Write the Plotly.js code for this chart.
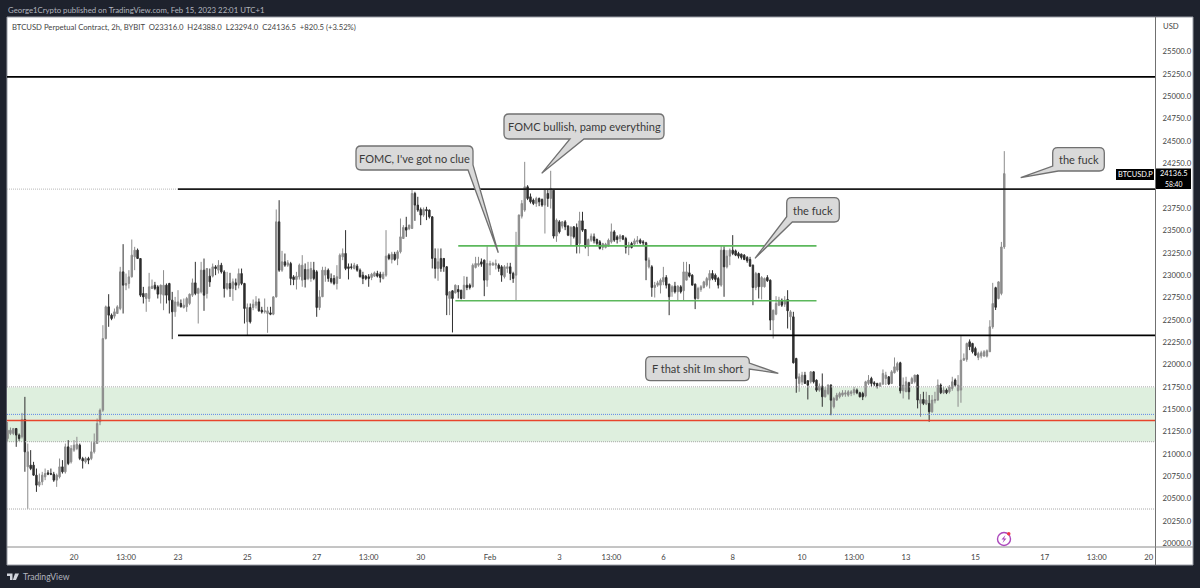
<!DOCTYPE html>
<html>
<head>
<meta charset="utf-8">
<script src="https://cdn.plot.ly/plotly-3.0.1.min.js"></script>
<style>
  html, body { margin: 0; padding: 0; background: #1e222d; }
  #chart { width: 1200px; height: 588px; }
</style>
</head>
<body>
<div id="chart"></div>
<script>
// 2h candles, last one opened Feb 15 21:00
var lastCandle = Date.UTC(2023, 1, 15, 21, 0);

var opens = [
  21172,21228,21228,21284,21210,21191,21385,20855,20874,20874,20762,20650,
  20687,20743,20788,20780,20773,20706,20743,20855,20799,21079,20911,21042,
  21060,21098,20948,20911,20948,20948,21023,21116,21359,21489,22291,22646,
  22552,22541,22571,22627,23037,22888,22907,22981,23205,23280,23186,22795,
  22739,22739,22851,22888,22869,22787,22776,22888,22907,22720,22590,22664,
  22683,22638,22646,22683,22776,22914,22795,22813,23056,22795,22989,22989,
  23093,23056,23112,23037,22851,22907,22851,22914,22888,23018,22907,22478,
  22638,22638,22664,22701,22608,22590,22571,22578,22563,22757,23597,23056,
  23149,23112,23130,22981,22951,22981,22944,23064,22963,22963,23056,23038,
  22638,22758,23000,23056,22963,22963,22907,22963,23205,23243,23094,23094,
  23075,23101,23056,23000,22989,22982,22974,22989,23019,23011,22963,23000,
  23224,23175,23235,23187,23261,23410,23534,23522,23522,23914,23784,23735,
  23672,23735,23728,23653,23187,23075,23187,23187,23094,22739,22825,22802,
  22840,22832,22739,22888,22888,22870,23086,23112,23149,23168,22944,23112,
  23112,23112,23112,23094,22982,23075,23094,23019,23000,23336,23660,23728,
  23989,23877,23840,23802,23858,23847,23784,23914,23858,23951,23437,23597,
  23549,23597,23549,23437,23541,23534,23355,23608,23511,23317,23392,23429,
  23399,23373,23310,23310,23325,23373,23485,23429,23410,23440,23410,23310,
  23354,23347,23373,23392,23373,23362,23093,23093,22862,22888,22888,22925,
  22974,22899,22814,22877,22814,22870,22825,22944,23026,23000,22899,22739,
  22840,22862,22888,22944,23019,23000,22963,22888,23280,23093,23213,23280,
  23272,23242,23235,23224,23198,23175,23112,22862,23019,22870,22870,22974,
  22944,22497,22564,22664,22720,22675,22728,22534,22534,22068,21788,21806,
  21881,21818,21806,21918,21825,21713,21758,21639,21676,21769,21527,21601,
  21639,21657,21668,21657,21676,21683,21713,21684,21676,21647,21788,21844,
  21796,21788,21758,21781,21844,21863,21788,21908,21937,22020,21706,21695,
  21796,21788,21807,21882,21565,21609,21557,21565,21471,21594,21602,21770,
  21684,21714,21695,21732,21826,21706,21714,22049,22057,22255,22236,22180,
  22079,22094,22094,22094,22143,22421,22860,22738,22795,23316
];
var highs = [
  21359,21295,21290,21290,21228,21459,21638,21116,21042,20911,20836,20780,
  20799,20836,20818,20836,20799,20780,20948,20930,21116,21154,21098,21154,
  21191,21116,20967,20967,20967,21135,21228,21396,21508,22440,22660,22787,
  22571,22627,22664,23093,23347,23018,23056,23399,23317,23298,23190,22869,
  22800,23026,22951,22925,22888,22895,23056,22907,22914,22813,22757,22832,
  22728,22739,22757,22795,22962,23149,22860,23149,23186,23080,23074,23130,
  23112,23168,23138,23056,23037,23026,22962,22962,23074,23074,22914,22683,
  22683,22728,22765,22739,22646,22739,22646,22646,22765,23735,23839,23272,
  23242,23168,23149,23000,23037,23130,23224,23131,23149,23149,23149,23056,
  22832,23094,23094,23075,23019,23000,23112,23243,23299,23504,23131,23131,
  23138,23123,23075,23038,23000,23011,23026,23041,23049,23038,23038,23504,
  23243,23261,23261,23280,23634,23560,23653,23565,23959,23933,23877,23757,
  23757,23765,23735,23660,23299,23299,23299,23190,23100,22820,22832,22895,
  22888,22835,22989,22982,22907,23131,23205,23205,23187,23175,23325,23161,
  23149,23175,23131,23112,23112,23138,23138,23038,23485,23680,23840,24268,
  24007,23914,23858,23877,23869,23858,23965,23959,24168,23959,23634,23616,
  23605,23616,23560,23549,23549,23578,23709,23709,23515,23410,23466,23466,
  23410,23392,23362,23362,23410,23578,23504,23448,23459,23448,23429,23373,
  23373,23410,23437,23410,23392,23373,23198,23112,22925,22937,22963,23093,
  23000,22905,22888,22925,22888,22888,23149,23149,23123,23011,22907,22870,
  22888,22937,22981,23056,23056,23019,22981,23336,23325,23280,23298,23448,
  23287,23261,23242,23235,23213,23205,23119,23037,23026,22989,22974,23000,
  22952,22615,22765,22758,22739,22765,22832,22608,22590,22075,21900,21918,
  21918,21825,21926,21926,21833,21788,21900,21750,21780,21780,21639,21683,
  21695,21713,21713,21713,21713,21750,21732,21695,21695,21818,21882,21863,
  21814,21796,21803,21945,21919,21870,21937,22079,22031,22031,21855,21863,
  21807,21863,21885,21889,21669,21695,21695,21658,21658,21695,21833,21788,
  21751,21732,21770,21863,21844,21882,22318,22124,22245,22281,22243,22199,
  22143,22154,22161,22169,22496,22914,22870,22930,23372,24388
];
var lows = [
  21135,21210,21210,21079,21146,21172,20800,20385,20818,20755,20575,20631,
  20650,20706,20762,20762,20687,20631,20725,20780,20780,20874,20892,21023,
  21042,20930,20836,20892,20885,20930,21004,21116,21321,21470,22280,22422,
  22496,22515,22571,22608,22571,22832,22851,22974,23056,23186,22757,22683,
  22590,22701,22851,22832,22739,22683,22608,22683,22571,22284,22534,22646,
  22638,22627,22590,22664,22757,22776,22459,22795,22601,22739,22869,22974,
  23000,23018,23018,22750,22832,22757,22713,22832,22851,22888,22459,22328,
  22459,22608,22627,22590,22571,22571,22355,22552,22552,22750,23037,23037,
  23093,23093,22888,22888,22840,22951,22870,22862,22944,22926,22944,22534,
  22609,22758,22926,22926,22907,22888,22840,22963,23168,23056,22952,23064,
  23064,23038,22974,22900,22944,22870,22944,22982,22974,22918,22952,22982,
  23168,23131,23161,23112,23243,23410,23429,23504,23522,23608,23709,23560,
  23653,23616,23634,23075,22963,22937,23038,23038,22553,22553,22359,22795,
  22739,22728,22739,22832,22840,22862,23075,23094,23094,22765,22870,23000,
  23112,23064,23038,22926,22963,23026,22944,22914,22713,23317,23634,23709,
  23840,23802,23784,23765,23772,23765,23466,23765,23746,23410,23373,23466,
  23522,23504,23437,23336,23410,23243,23243,23485,23299,23213,23373,23355,
  23336,23287,23280,23299,23317,23354,23373,23354,23373,23392,23242,23224,
  23299,23325,23347,23347,23336,22944,23075,22758,22750,22870,22795,22888,
  22851,22552,22758,22795,22720,22795,22720,22944,22974,22888,22620,22728,
  22814,22851,22870,22851,22944,22925,22851,22870,22758,23075,23112,23224,
  23213,23187,23175,23168,23138,23093,22664,22832,22739,22728,22862,22925,
  22385,22291,22552,22653,22645,22645,22403,22385,22012,21684,21695,21769,
  21788,21609,21788,21788,21695,21695,21527,21631,21657,21433,21508,21601,
  21620,21639,21639,21639,21646,21657,21668,21632,21602,21632,21770,21751,
  21758,21732,21751,21770,21770,21770,21781,21900,21919,21676,21620,21695,
  21609,21788,21788,21509,21415,21546,21546,21359,21460,21565,21594,21669,
  21669,21669,21676,21706,21751,21527,21572,22042,22031,22161,22124,22094,
  22049,22068,22087,22079,22143,22400,22610,22730,22775,23294
];
var closes = [
  21265,21265,21284,21210,21172,21385,21023,21023,20836,20762,20650,20687,
  20762,20780,20773,20773,20706,20762,20855,20799,21079,20892,21060,21098,
  21109,20948,20922,20948,20930,21023,21127,21340,21489,22291,22646,22552,
  22515,22590,22646,23037,22888,22907,22981,23224,23280,23186,22776,22757,
  22795,22869,22877,22851,22787,22888,22888,22776,22720,22590,22701,22701,
  22646,22664,22739,22787,22914,22795,22851,23056,22776,23074,22925,23093,
  23074,23112,23037,22851,22907,22851,22925,22888,23018,22907,22627,22638,
  22478,22675,22701,22601,22590,22601,22601,22563,22757,23597,23056,23149,
  23112,23138,22962,22951,22989,23112,23112,22952,23064,23075,22963,22638,
  22758,23056,23056,22963,22926,22907,22982,23224,23243,23075,23075,23086,
  23112,23056,22982,22963,22963,22963,23011,23026,22989,22974,23011,23213,
  23187,23235,23175,23261,23429,23534,23504,23560,23914,23784,23728,23672,
  23735,23720,23653,23187,23075,23149,23075,23094,22776,22814,22739,22888,
  22814,22739,22888,22862,22862,23112,23131,23131,23123,22944,23131,23131,
  23131,23131,23075,23000,23094,23094,23019,22963,23336,23672,23802,23989,
  23858,23821,23802,23858,23821,23784,23959,23858,23970,23437,23616,23485,
  23597,23541,23448,23534,23429,23336,23608,23504,23317,23399,23437,23384,
  23355,23299,23354,23347,23392,23485,23392,23399,23440,23403,23310,23336,
  23310,23384,23392,23362,23362,23168,23168,22862,22888,22914,22944,22974,
  22888,22758,22870,22814,22877,22814,23037,23037,22989,22888,22739,22851,
  22870,22925,22963,23019,22963,22952,22888,23280,23093,23213,23280,23242,
  23224,23213,23198,23175,23160,23101,22862,23019,22870,22974,22963,22937,
  22497,22608,22683,22720,22664,22720,22601,22590,22019,21844,21862,21881,
  21788,21769,21918,21806,21713,21758,21639,21713,21769,21601,21620,21657,
  21676,21683,21683,21695,21695,21720,21683,21639,21639,21807,21826,21788,
  21781,21758,21788,21900,21882,21781,21919,21975,22012,21706,21770,21807,
  21695,21844,21882,21602,21609,21565,21602,21471,21602,21609,21770,21684,
  21714,21684,21751,21807,21770,21770,22049,22068,22236,22199,22143,22105,
  22124,22131,22143,22154,22422,22683,22640,22925,23316,24136.5
];

var tickDates = ['2023-01-20 01:00','2023-01-21 13:00','2023-01-23 01:00','2023-01-25 01:00','2023-01-27 01:00',
  '2023-01-28 13:00','2023-01-30 01:00','2023-02-01 01:00','2023-02-03 01:00','2023-02-04 13:00','2023-02-06 01:00',
  '2023-02-08 01:00','2023-02-10 01:00','2023-02-11 13:00','2023-02-13 01:00','2023-02-15 01:00','2023-02-17 01:00',
  '2023-02-18 13:00','2023-02-20 01:00'];
var tickLabels = ['20','13:00','23','25','27','13:00','30','Feb','3','13:00','6','8','10','13:00','13','15','17','13:00','20'];
// 24000 sits under the last price tag
var priceTicks = [20000,20250,20500,20750,21000,21250,21500,21750,22000,22250,22500,22750,23000,23250,23500,23750,24250,24500,24750,25000,25250,25500];

// drawn levels
var topLevel = 25219, resistance = 23963, support = 22326;
var rangeHigh = 23328, rangeLow = 22713;
var zoneTop = 21742, zoneBottom = 21136, lowLevel = 20383;
var blueLevel = 21442, redLevel = 21375;

var xStart = '2023-01-18 02:37', xEnd = '2023-02-20 05:20';
var levelStart = '2023-01-23 01:00', rangeStart = '2023-01-31 03:00', rangeEnd = '2023-02-10 11:00';

var uiFont = 'Lato, "Noto Sans", sans-serif';
var fineDots = '1px,1px';

var times = [];
for (var i = 0; i < closes.length; i++) {
  times.push(new Date(lastCandle - (closes.length - 1 - i) * 7200000).toISOString().slice(0, 16).replace('T', ' '));
}

// page pixels to paper fractions, plot area is 7..1155 by 17..547
function px(x) { return (x - 7) / 1148; }
function py(y) { return 1 - (y - 17) / 530; }

function level(y, x0, x1, color, width, dash) {
  return { type: 'line', xref: 'x', yref: 'y', x0: x0, x1: x1, y0: y, y1: y,
    line: { color: color, width: width, dash: dash || 'solid' } };
}

// rounded box with a tail. bottom: a,b are x on the bottom edge. right/left: y on that edge.
// br/bl: tail sits on that corner, a is y on the side edge, b is x on the bottom edge
function callout(l, t, r, b, tail) {
  var k = 5;
  var d = 'M' + px(l + k) + ',' + py(t) + ' ';
  function L(x, y) { d += 'L' + px(x) + ',' + py(y) + ' '; }
  function Q(cx, cy, x, y) { d += 'Q' + px(cx) + ',' + py(cy) + ' ' + px(x) + ',' + py(y) + ' '; }
  L(r - k, t); Q(r, t, r, t + k);
  if (tail.side == 'right') { L(r, tail.a); L(tail.tx, tail.ty); L(r, tail.b); }
  if (tail.side == 'br') {
    L(r, tail.a); L(tail.tx, tail.ty); L(tail.b, b);
  } else {
    L(r, b - k); Q(r, b, r - k, b);
  }
  if (tail.side == 'bottom') { L(tail.b, b); L(tail.tx, tail.ty); L(tail.a, b); }
  if (tail.side == 'bl') {
    L(tail.b, b); L(tail.tx, tail.ty); L(l, tail.a);
  } else {
    L(l + k, b); Q(l, b, l, b - k);
  }
  L(l, t + k); Q(l, t, l + k, t);
  d += 'Z';
  return { type: 'path', xref: 'paper', yref: 'paper', path: d, fillcolor: '#d9d9d9', line: { color: '#707070', width: 1.3 } };
}

function label(text, x, y, size, color, anchor) {
  return { text: text, xref: 'paper', yref: 'paper', x: px(x), y: py(y), showarrow: false,
    xanchor: anchor || 'center', yanchor: 'middle', borderpad: 0,
    font: { family: uiFont, size: size, color: color } };
}

function boxAt(x0, y0, x1, y1, fill, line) {
  return { type: 'rect', xref: 'paper', yref: 'paper', x0: px(x0), x1: px(x1), y0: py(y0), y1: py(y1),
    fillcolor: fill, line: line || { width: 0 } };
}

var shapes = [
  // white panel behind the plot and axis strips
  Object.assign(boxAt(7, 17, 1193, 565, '#ffffff', { color: '#9a9da6', width: 1 }), { layer: 'below' }),
  // green zone
  { type: 'rect', xref: 'paper', yref: 'y', x0: 0, x1: 1, y0: zoneBottom, y1: zoneTop, fillcolor: '#deefde', line: { width: 0 }, layer: 'below' },
  level(zoneTop + 8, xStart, xEnd, '#a8a8a8', 1, fineDots),
  level(zoneBottom, xStart, xEnd, '#a8a8a8', 1, fineDots),
  level(lowLevel, xStart, xEnd, '#a8a8a8', 1, fineDots),
  level(resistance, xStart, levelStart, '#b8b8b8', 1, fineDots),
  level(blueLevel, xStart, xEnd, '#5f86e6', 1, fineDots),
  level(redLevel, xStart, xEnd, '#e8452c', 1.5),
  level(topLevel, xStart, xEnd, '#000000', 1.6),
  level(resistance, levelStart, xEnd, '#1a1a1a', 1.8),
  level(support, levelStart, xEnd, '#000000', 1.6),
  level(rangeHigh, rangeStart, rangeEnd, '#5cb85c', 1.6),
  level(rangeLow, '2023-01-31 01:00', rangeEnd, '#5cb85c', 1.6),
  // axis strip separators
  { type: 'line', xref: 'paper', yref: 'paper', x0: px(1155.5), x1: px(1155.5), y0: py(17), y1: py(565), line: { color: '#707070', width: 1 } },
  { type: 'line', xref: 'paper', yref: 'paper', x0: px(7), x1: px(1193), y0: py(547), y1: py(547), line: { color: '#8a8a8a', width: 1 } },
  // callouts
  callout(356, 146, 473, 170, { side: 'br', a: 165, b: 468, tx: 498.3, ty: 252.7 }),
  callout(504, 114, 664, 139, { side: 'bottom', a: 570, b: 584, tx: 541.7, ty: 173.3 }),
  callout(786.7, 197.7, 839.3, 222, { side: 'bl', a: 216.7, b: 792.3, tx: 755, ty: 258.3 }),
  callout(645.7, 356.7, 749.3, 380.7, { side: 'right', a: 363, b: 369, tx: 778.3, ty: 373.3 }),
  callout(1052.7, 147.7, 1104.3, 171, { side: 'bl', a: 166, b: 1058.3, tx: 1020.7, ty: 177.7 }),
  // last price tags
  boxAt(1116, 169, 1154, 180, '#000000'),
  boxAt(1156, 168.5, 1191, 189, '#000000'),
  // flash icon near the last candle
  { type: 'circle', xref: 'paper', yref: 'paper', x0: px(997.5), x1: px(1010.5), y0: py(532.5), y1: py(545.5), line: { color: '#ab47bc', width: 1.4 }, fillcolor: 'rgba(255,255,255,0)' },
  { type: 'path', xref: 'paper', yref: 'paper', fillcolor: '#ab47bc', line: { width: 0 },
    path: 'M' + px(1005.5) + ',' + py(535) + ' L' + px(1001.5) + ',' + py(539.5) + ' L' + px(1004) + ',' + py(539.5) + ' L' + px(1002.5) + ',' + py(543) + ' L' + px(1006.5) + ',' + py(538.5) + ' L' + px(1004) + ',' + py(538.5) + ' Z' },
  { type: 'circle', xref: 'paper', yref: 'paper', x0: px(1007), x1: px(1010.5), y0: py(532), y1: py(535.5), line: { width: 0 }, fillcolor: '#f23645' },
  // TradingView mark
  { type: 'path', xref: 'paper', yref: 'paper', fillcolor: '#d1d4dc', line: { width: 0 },
    path: 'M' + px(7) + ',' + py(573.5) + ' L' + px(12.5) + ',' + py(573.5) + ' L' + px(12.5) + ',' + py(580) + ' L' + px(10) + ',' + py(580) + ' L' + px(10) + ',' + py(576) + ' L' + px(7) + ',' + py(576) + ' Z' },
  { type: 'path', xref: 'paper', yref: 'paper', fillcolor: '#d1d4dc', line: { width: 0 },
    path: 'M' + px(15) + ',' + py(573.5) + ' L' + px(19) + ',' + py(573.5) + ' L' + px(16) + ',' + py(580) + ' L' + px(12.8) + ',' + py(580) + ' Z' }
];

var annotations = [
  label('George1Crypto published on TradingView.com, Feb 15, 2023 22:01 UTC+1', 7, 9.5, 7.8, '#b2b5be', 'left'),
  label('TradingView', 22, 576.5, 8.6, '#b2b5be', 'left'),
  label('USD', 1162, 26, 7.7, '#444444', 'left'),
  label("FOMC, I've got no clue", 414.5, 158, 11, '#3a3a3a'),
  label('FOMC bullish, pamp everything', 584, 126.5, 11, '#3a3a3a'),
  label('the fuck', 813, 210, 11, '#3a3a3a'),
  label('F that shit Im short', 697.5, 368.5, 11, '#3a3a3a'),
  label('the fuck', 1078.5, 159.5, 11, '#3a3a3a'),
  label('BTCUSD.P', 1135, 174.5, 7.4, '#ffffff'),
  label('24136.5', 1173.5, 173.3, 7.4, '#ffffff'),
  label('58:40', 1173.5, 184, 6.8, '#ffffff')
];

var trace = {
  type: 'candlestick',
  x: times, open: opens, high: highs, low: lows, close: closes,
  whiskerwidth: 0,
  increasing: { line: { color: '#8c8c8c', width: 1 }, fillcolor: '#8c8c8c' },
  decreasing: { line: { color: '#2e2e2e', width: 1 }, fillcolor: '#2e2e2e' },
  hoverinfo: 'skip',
  showlegend: false
};

var layout = {
  width: 1200,
  height: 588,
  margin: { l: 7, r: 45, t: 17, b: 41, pad: 0 },
  paper_bgcolor: '#1e222d',
  plot_bgcolor: 'rgba(255,255,255,0)',
  showlegend: false,
  title: {
    text: 'BTCUSD Perpetual Contract, 2h, BYBIT  O23316.0  H24388.0  L23294.0  C24136.5  +820.5 (+3.52%)',
    xref: 'paper', yref: 'container', x: px(12), xanchor: 'left', y: 1 - 27 / 588, yanchor: 'middle',
    font: { family: uiFont, size: 7.7, color: '#444444' }
  },
  xaxis: {
    type: 'date', range: [xStart, xEnd], rangeslider: { visible: false },
    tickmode: 'array', tickvals: tickDates, ticktext: tickLabels,
    tickfont: { family: uiFont, size: 7.7, color: '#444444' },
    showgrid: false, zeroline: false, ticks: 'outside', ticklen: 3, tickcolor: 'rgba(255,255,255,0)'
  },
  yaxis: {
    side: 'right', range: [19958, 25889], tickmode: 'array', tickvals: priceTicks,
    tickformat: '.1f',
    tickfont: { family: uiFont, size: 7.7, color: '#444444' },
    showgrid: false, zeroline: false, ticks: 'outside', ticklen: 5, tickcolor: 'rgba(255,255,255,0)'
  },
  shapes: shapes,
  annotations: annotations
};

Plotly.newPlot('chart', [trace], layout, { displayModeBar: false, staticPlot: true });
</script>
</body>
</html>
